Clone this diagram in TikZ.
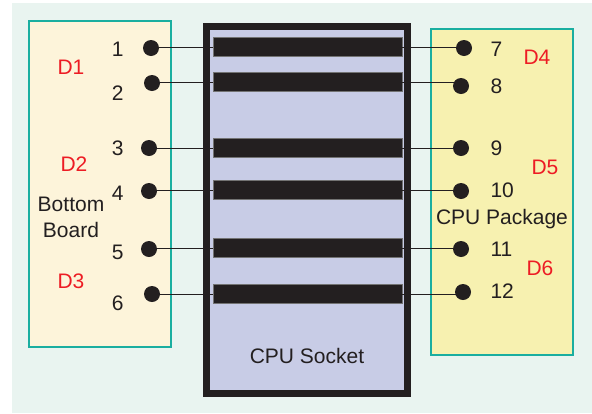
\documentclass[tikz,border=0pt]{standalone}
\usepackage{fontspec}
\setmainfont{Liberation Sans}
\usetikzlibrary{positioning}
\usepackage{xcolor}
\definecolor{meufundo}{RGB}{233, 244, 240}
\definecolor{meucreme}{RGB}{253, 244, 218}
\definecolor{meuamarelo}{RGB}{247, 241, 176}
\definecolor{meulilas}{RGB}{200, 204, 230}
\definecolor{meuturquesa}{RGB}{26, 174, 160}
\definecolor{meuvermelho}{RGB}{237, 28, 36}
\definecolor{meupreto}{RGB}{35, 31, 32}

\begin{document}
\begin{tikzpicture}[
    x=1pt, y=-1pt,
    every node/.style={font=\fontsize{21}{26}\selectfont, text=meupreto},
    placa/.style={draw=meuturquesa, line width=1.5pt},
    pino/.style={circle, fill=meupreto, minimum size=16pt, inner sep=0pt},
    contato/.style={rectangle, fill=meupreto, draw=black!55, line width=0.6pt,
        minimum width=189pt, minimum height=19pt, inner sep=0pt},
    fio/.style={draw=meupreto, line width=1pt},
    rotulo/.style={text=meuvermelho}
]

\useasboundingbox (0,0) rectangle (592,413);
\fill[meufundo] (12,3) rectangle (592,413);

% ------------------------------------------------
% Placas e soquete
% ------------------------------------------------

\draw[placa, fill=meucreme] (29,21) rectangle (171,347);
\draw[placa, fill=meuamarelo] (431,29) rectangle (573,355);
\draw[line width=7pt, draw=meupreto, fill=meulilas] (206.5,26.5) rectangle (407,393.5);

\node[align=center] (inferior) at (71,217) {Bottom\\Board};
\node[anchor=base] (pacote) at (502,224) {CPU Package};
\node[anchor=base] (soquete) at (307,363) {CPU Socket};

% ------------------------------------------------
% Contatos do soquete
% ------------------------------------------------

\node[contato] (c1) at (307.5,47) {};
\node[contato] (c2) at (307.5,82) {};
\node[contato] (c3) at (307.5,148) {};
\node[contato] (c4) at (307.5,190) {};
\node[contato] (c5) at (307.5,248) {};
\node[contato] (c6) at (307.5,294) {};

% ------------------------------------------------
% Pinos da placa inferior
% ------------------------------------------------

\node[pino] (p1) at (151,48) {};
\node[pino] (p2) at (152,83) {};
\node[pino] (p3) at (149,148) {};
\node[pino] (p4) at (149,191) {};
\node[pino] (p5) at (149,249) {};
\node[pino] (p6) at (152,294) {};

\node[anchor=east] (n1) at (127,49) {1};
\node[anchor=east] (n2) at (127,93) {2};
\node[anchor=east] (n3) at (127,148) {3};
\node[anchor=east] (n4) at (127,193) {4};
\node[anchor=east] (n5) at (127,252) {5};
\node[anchor=east] (n6) at (127,303) {6};

% ------------------------------------------------
% Pinos do pacote da CPU
% ------------------------------------------------

\node[pino] (p7) at (464,48) {};
\node[pino] (p8) at (461,86) {};
\node[pino] (p9) at (461,148) {};
\node[pino] (p10) at (461,191) {};
\node[pino] (p11) at (461,249) {};
\node[pino] (p12) at (463,292) {};

\node[anchor=west] (n7) at (487,49) {7};
\node[anchor=west] (n8) at (487,86) {8};
\node[anchor=west] (n9) at (487,148) {9};
\node[anchor=west] (n10) at (487,190) {10};
\node[anchor=west] (n11) at (487,249) {11};
\node[anchor=west] (n12) at (487,291) {12};

% ------------------------------------------------
% Ligacoes
% ------------------------------------------------

\draw[fio] (c1.west) -- (c1.west -| p1);
\draw[fio] (c2.west) -- (c2.west -| p2);
\draw[fio] (c3.west) -- (c3.west -| p3);
\draw[fio] (c4.west) -- (c4.west -| p4);
\draw[fio] (c5.west) -- (c5.west -| p5);
\draw[fio] (c6.west) -- (c6.west -| p6);

\draw[fio] (c1.east) -- (c1.east -| p7);
\draw[fio] (c2.east) -- (c2.east -| p8);
\draw[fio] (c3.east) -- (c3.east -| p9);
\draw[fio] (c4.east) -- (c4.east -| p10);
\draw[fio] (c5.east) -- (c5.east -| p11);
\draw[fio] (c6.east) -- (c6.east -| p12);

% ------------------------------------------------
% Rotulos vermelhos
% ------------------------------------------------

\node[rotulo] (d1) at (71,67) {D1};
\node[rotulo] (d2) at (74,164) {D2};
\node[rotulo] (d3) at (71,281) {D3};
\node[rotulo] (d4) at (537,57) {D4};
\node[rotulo] (d5) at (545,167) {D5};
\node[rotulo] (d6) at (540,268) {D6};

\end{tikzpicture}
\end{document}
